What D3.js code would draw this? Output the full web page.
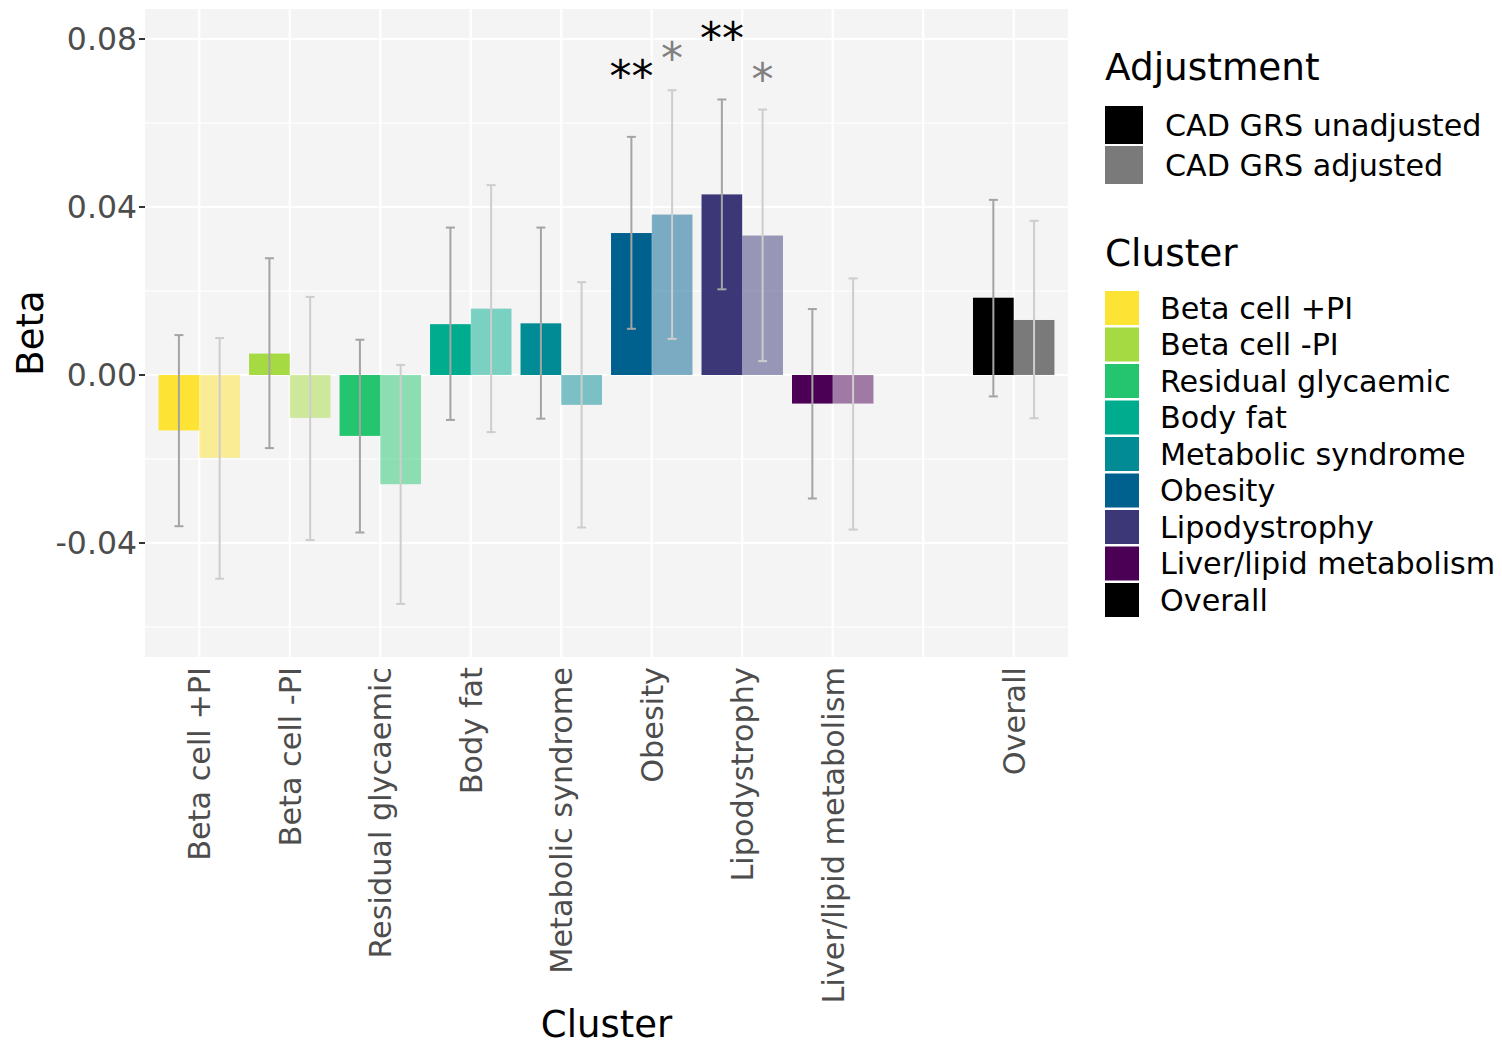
<!DOCTYPE html>
<html>
<head>
<meta charset="utf-8">
<script src="https://cdn.jsdelivr.net/npm/d3@7"></script>
<style>
  html, body { margin: 0; padding: 0; background: #ffffff; }
  svg { display: block; font-family: "DejaVu Sans", sans-serif; }
</style>
</head>
<body>
<svg id="chart" width="1502" height="1045"></svg>
<script>
// ---------------- data ----------------
const clusters = ["Beta cell +PI", "Beta cell -PI", "Residual glycaemic", "Body fat",
  "Metabolic syndrome", "Obesity", "Lipodystrophy", "Liver/lipid metabolism", "Overall"];
const xLevels = ["Beta cell +PI", "Beta cell -PI", "Residual glycaemic", "Body fat",
  "Metabolic syndrome", "Obesity", "Lipodystrophy", "Liver/lipid metabolism", " ", "Overall"];
const clusterColors = ["#FDE333", "#A6DA42", "#25C56F", "#00AC8E", "#008B95",
  "#00618F", "#3C3777", "#4B0055", "#000000"];

const adjustments = ["CAD GRS unadjusted", "CAD GRS adjusted"];
const adjustmentKeyColors = ["#000000", "#7A7A7A"];

const betaUnadj = [-0.0132, 0.0051, -0.0145, 0.0121, 0.0123, 0.0338, 0.0430, -0.0068, 0.0184];
const lowUnadj  = [-0.0360, -0.0174, -0.0375, -0.0107, -0.0104, 0.0110, 0.0204, -0.0294, -0.0051];
const highUnadj = [0.0095, 0.0278, 0.0084, 0.0351, 0.0351, 0.0567, 0.0656, 0.0157, 0.0417];

const betaAdj = [-0.0197, -0.0102, -0.0260, 0.0158, -0.0071, 0.0382, 0.0332, -0.0068, 0.0131];
const lowAdj  = [-0.0485, -0.0393, -0.0545, -0.0136, -0.0363, 0.0086, 0.0033, -0.0368, -0.0103];
const highAdj = [0.0088, 0.0186, 0.0024, 0.0452, 0.0221, 0.0678, 0.0632, 0.0230, 0.0367];

const sigUnadj = ["", "", "", "", "", "**", "**", "", ""];
const sigAdj   = ["", "", "", "", "", "*", "*", "", ""];

const yTicks = [-0.04, 0.00, 0.04, 0.08];
const yMinor = [-0.06, -0.02, 0.02, 0.06];
const yTickLabels = ["-0.04", "0.00", "0.04", "0.08"];

// ---------------- layout ----------------
const panel = { left: 145, right: 1068, top: 9, bottom: 657 };
const svg = d3.select("#chart");
svg.append("rect").attr("width", 1502).attr("height", 1045).attr("fill", "#ffffff");

const y = d3.scaleLinear().domain([-0.06714, 0.08714]).range([panel.bottom, panel.top]);
const x = d3.scalePoint().domain(xLevels).range([panel.left, panel.right]).padding(0.6);
const step = x.step();
const barW = step * 0.45;

// panel background
svg.append("rect")
  .attr("x", panel.left).attr("y", panel.top)
  .attr("width", panel.right - panel.left).attr("height", panel.bottom - panel.top)
  .attr("fill", "#F4F4F4");

// grid
const grid = svg.append("g");
grid.selectAll("line.minor").data(yMinor).enter().append("line")
  .attr("x1", panel.left).attr("x2", panel.right)
  .attr("y1", d => y(d)).attr("y2", d => y(d))
  .attr("stroke", "#ffffff").attr("stroke-width", 1.1);
grid.selectAll("line.major").data(yTicks).enter().append("line")
  .attr("x1", panel.left).attr("x2", panel.right)
  .attr("y1", d => y(d)).attr("y2", d => y(d))
  .attr("stroke", "#ffffff").attr("stroke-width", 2.2);
grid.selectAll("line.vx").data(xLevels).enter().append("line")
  .attr("x1", d => x(d)).attr("x2", d => x(d))
  .attr("y1", panel.top).attr("y2", panel.bottom)
  .attr("stroke", "#ffffff").attr("stroke-width", 2.2);

// data rows
const rows = clusters.map((c, i) => ({
  cluster: c, color: clusterColors[i],
  bu: betaUnadj[i], lu: lowUnadj[i], hu: highUnadj[i],
  ba: betaAdj[i], la: lowAdj[i], ha: highAdj[i],
  su: sigUnadj[i], sa: sigAdj[i]
}));

const bars = svg.append("g");
// unadjusted
bars.selectAll("rect.u").data(rows).enter().append("rect")
  .attr("x", d => x(d.cluster) - barW)
  .attr("width", barW)
  .attr("y", d => y(Math.max(0, d.bu)))
  .attr("height", d => Math.abs(y(d.bu) - y(0)))
  .attr("fill", d => d.color);
// adjusted
bars.selectAll("rect.a").data(rows).enter().append("rect")
  .attr("x", d => x(d.cluster))
  .attr("width", barW)
  .attr("y", d => y(Math.max(0, d.ba)))
  .attr("height", d => Math.abs(y(d.ba) - y(0)))
  .attr("fill", d => d.color)
  .attr("fill-opacity", 0.5);

// error bars
const capW = 4.5;
function errorBars(off, lo, hi, color) {
  const g = svg.append("g").attr("stroke", color).attr("stroke-width", 2);
  rows.forEach(d => {
    const cx = x(d.cluster) + off;
    g.append("line").attr("x1", cx).attr("x2", cx).attr("y1", y(d[lo])).attr("y2", y(d[hi]));
    g.append("line").attr("x1", cx - capW).attr("x2", cx + capW).attr("y1", y(d[lo])).attr("y2", y(d[lo]));
    g.append("line").attr("x1", cx - capW).attr("x2", cx + capW).attr("y1", y(d[hi])).attr("y2", y(d[hi]));
  });
}
errorBars(-barW / 2, "lu", "hu", "#A4A4A4");
errorBars(barW / 2, "la", "ha", "#CDCDCD");

// significance stars
const starOffset = 0.0406;
const starSize = 44;
const stars = svg.append("g").attr("font-size", starSize + "px").attr("text-anchor", "middle");
stars.selectAll("text.u").data(rows.filter(d => d.su)).enter().append("text")
  .attr("x", d => x(d.cluster) - barW / 2)
  .attr("y", d => y(d.bu + starOffset) + 0.68 * starSize)
  .attr("fill", "#000000").text(d => d.su);
stars.selectAll("text.a").data(rows.filter(d => d.sa)).enter().append("text")
  .attr("x", d => x(d.cluster) + barW / 2)
  .attr("y", d => y(d.ba + starOffset) + 0.68 * starSize)
  .attr("fill", "#808080").text(d => d.sa);

// y axis
const yAxis = svg.append("g");
yAxis.selectAll("line").data(yTicks).enter().append("line")
  .attr("x1", panel.left - 6).attr("x2", panel.left)
  .attr("y1", d => y(d)).attr("y2", d => y(d))
  .attr("stroke", "#333333").attr("stroke-width", 2);
yAxis.selectAll("text").data(yTicks).enter().append("text")
  .attr("x", panel.left - 8).attr("y", d => y(d))
  .attr("dy", "0.36em").attr("text-anchor", "end")
  .attr("font-size", "31.5px").attr("fill", "#4D4D4D")
  .text((d, i) => yTickLabels[i]);

// x axis labels
const xAxis = svg.append("g");
xAxis.selectAll("text").data(xLevels.filter(d => d.trim() !== "")).enter().append("text")
  .attr("transform", d => `translate(${x(d)},${panel.bottom + 10}) rotate(-90)`)
  .attr("dy", "0.36em").attr("text-anchor", "end")
  .attr("font-size", "30.3px").attr("fill", "#4D4D4D")
  .text(d => d);

// axis titles
svg.append("text").attr("transform", `translate(43,${(panel.top + panel.bottom) / 2}) rotate(-90)`)
  .attr("text-anchor", "middle").attr("font-size", "37px").attr("fill", "#000").text("Beta");
svg.append("text").attr("x", (panel.left + panel.right) / 2).attr("y", 1037)
  .attr("text-anchor", "middle").attr("font-size", "37px").attr("fill", "#000").text("Cluster");

// legends
const leg = svg.append("g");
leg.append("text").attr("x", 1105).attr("y", 80).attr("font-size", "37.4px").attr("fill", "#000").text("Adjustment");
adjustments.forEach((a, i) => {
  const top = 106 + i * 40;
  leg.append("rect").attr("x", 1105).attr("y", top).attr("width", 38).attr("height", 38)
    .attr("fill", adjustmentKeyColors[i]);
  leg.append("text").attr("x", 1165).attr("y", top + 19).attr("dy", "0.36em")
    .attr("font-size", "30.2px").attr("fill", "#000").text(a);
});
leg.append("text").attr("x", 1105).attr("y", 266).attr("font-size", "37.4px").attr("fill", "#000").text("Cluster");
clusters.forEach((c, i) => {
  const top = 291 + i * 36.5;
  leg.append("rect").attr("x", 1105).attr("y", top).attr("width", 34).attr("height", 34)
    .attr("fill", clusterColors[i]);
  leg.append("text").attr("x", 1160).attr("y", top + 17).attr("dy", "0.36em")
    .attr("font-size", "30.2px").attr("fill", "#000").text(c);
});
</script>
</body>
</html>
